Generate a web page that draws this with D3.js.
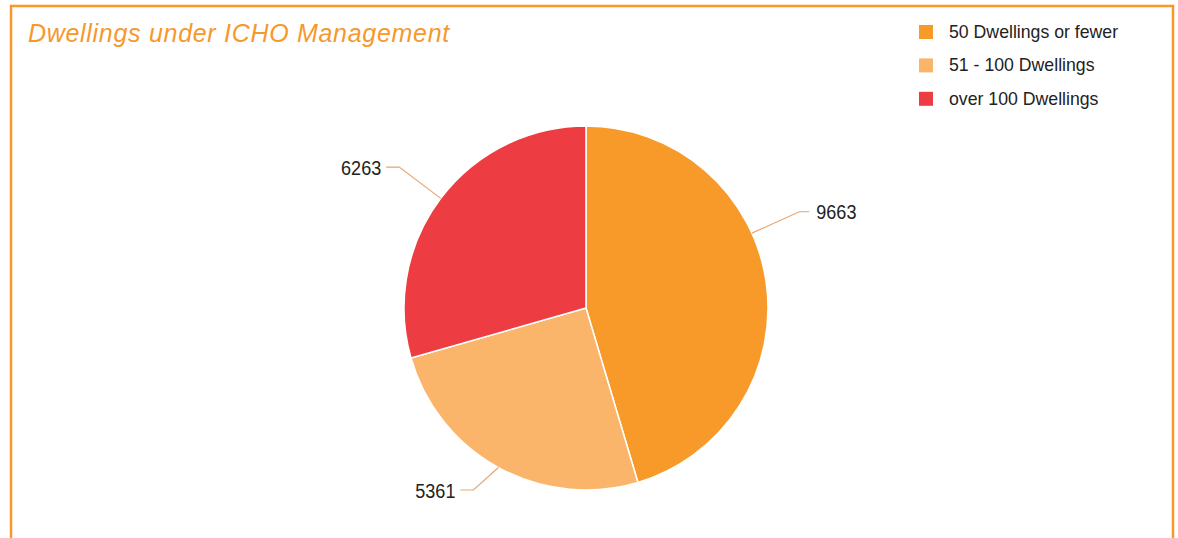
<!DOCTYPE html>
<html>
<head>
<meta charset="utf-8">
<script src="https://cdn.jsdelivr.net/npm/d3@7"></script>
<style>
  body { margin: 0; background: #fff; }
  svg { display: block; }
</style>
</head>
<body>
<svg id="chart"></svg>
<script>
const categories = ['50 Dwellings or fewer', '51 - 100 Dwellings', 'over 100 Dwellings']
const values = [9663, 5361, 6263]
const colors = ['#f89a2a', '#fbb56a', '#ee3d42']
// degrees the label is swung round from the slice middle
const labelNudge = [-16, 0, 0]

const W = 1178
const H = 538
const cx = 586
const cy = 308
const radius = 182
const font = "'Liberation Sans', Arial, sans-serif"

const svg = d3.select('#chart').attr('width', W).attr('height', H)

svg.append('rect').attr('width', W).attr('height', H).attr('fill', '#fff')

// frame (open at the bottom)
svg
  .append('path')
  .attr('d', `M11,${H + 5} L11,6 L1173,6 L1173,${H + 5}`)
  .attr('fill', 'none')
  .attr('stroke', '#f7982b')
  .attr('stroke-width', 2.5)

svg
  .append('text')
  .text('Dwellings under ICHO Management')
  .attr('x', 28)
  .attr('y', 42)
  .attr('font-family', font)
  .attr('font-style', 'italic')
  .attr('font-size', 25)
  .attr('letter-spacing', 0.7)
  .attr('fill', '#f7982b')

const data = categories.map((c, i) => ({ name: c, value: values[i], color: colors[i], nudge: labelNudge[i] }))

const pie = d3.pie().sort(null).value(d => d.value)
const arc = d3.arc().innerRadius(0).outerRadius(radius)
const arcs = pie(data)

const g = svg.append('g').attr('transform', `translate(${cx},${cy})`)

g.selectAll('path.slice')
  .data(arcs)
  .enter()
  .append('path')
  .attr('class', 'slice')
  .attr('d', arc)
  .attr('fill', d => d.data.color)
  .attr('stroke', '#fff')
  .attr('stroke-width', 1.5)
  .attr('stroke-linejoin', 'round')

// labels with crooked connectors
const labelR = radius + 52
const maxY = 490 - cy
arcs.forEach(d => {
  const a = (d.startAngle + d.endAngle) / 2 + (d.data.nudge * Math.PI) / 180
  const sx = Math.sin(a) * radius
  const sy = -Math.cos(a) * radius
  const ex = Math.sin(a) * labelR
  const ey = Math.min(-Math.cos(a) * labelR, maxY)
  const right = Math.sin(a) > 0
  const hx = ex + (right ? 10 : -13)

  g.append('path')
    .attr('d', `M${sx},${sy} L${ex},${ey} L${hx},${ey}`)
    .attr('fill', 'none')
    .attr('stroke', '#e3a774')
    .attr('stroke-width', 1.2)

  // narrow the digits a little, like the condensed face in the original
  const tx = hx + (right ? 7 : -5)
  g.append('text')
    .text(d.data.value)
    .attr('transform', `translate(${tx},${ey}) scale(0.86,1)`)
    .attr('dy', '0.36em')
    .attr('text-anchor', right ? 'start' : 'end')
    .attr('font-family', font)
    .attr('font-size', 21)
    .attr('fill', '#222')
})

// legend
const legend = svg
  .append('g')
  .selectAll('g')
  .data(data)
  .enter()
  .append('g')
  .attr('transform', (d, i) => `translate(919,${25 + i * 33.4})`)

legend
  .append('rect')
  .attr('width', 14)
  .attr('height', 14)
  .attr('fill', d => d.color)

legend
  .append('text')
  .text(d => d.name)
  .attr('x', 30)
  .attr('y', 13)
  .attr('font-family', font)
  .attr('font-size', 17.7)
  .attr('fill', '#222')
</script>
</body>
</html>
